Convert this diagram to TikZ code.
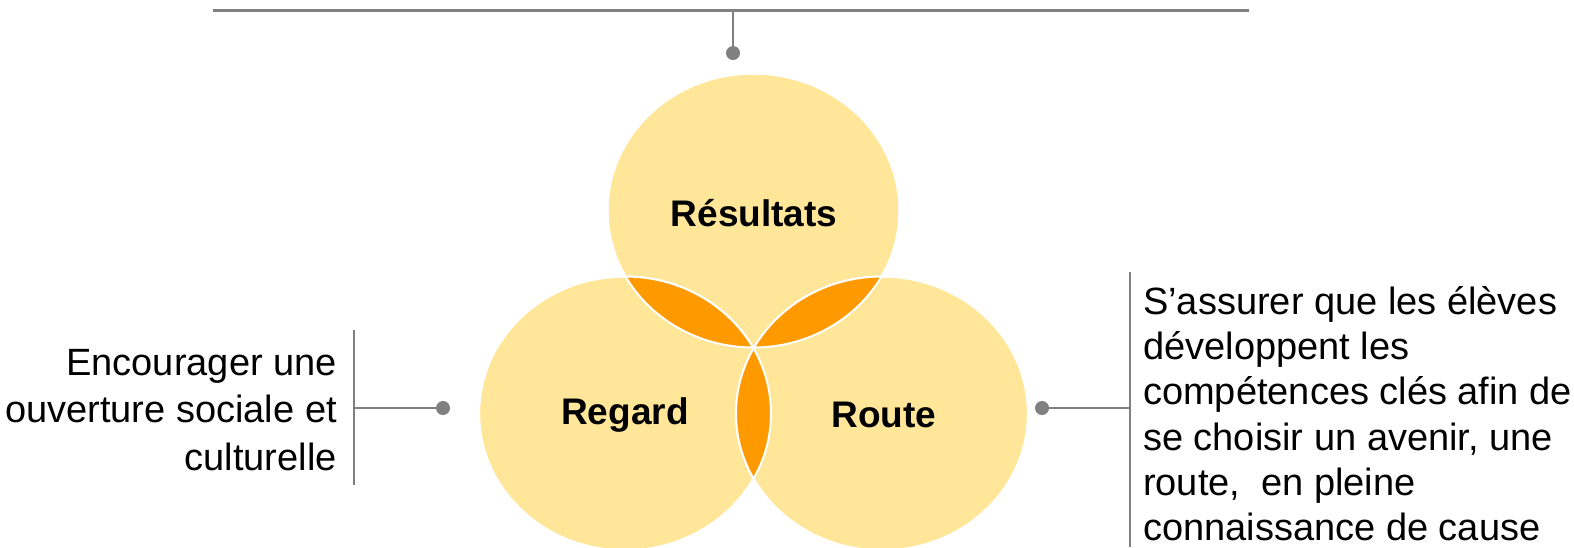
\documentclass[tikz,border=0pt]{standalone}
\usepackage{fontspec}
\setmainfont{Liberation Sans}
\usetikzlibrary{shapes.geometric}
\definecolor{lyel}{HTML}{FFE699}
\definecolor{lor}{HTML}{FF9900}
\definecolor{lgray}{HTML}{808080}
\tikzset{
  bubble/.style={ellipse, inner sep=0pt, minimum width=292pt, minimum height=274pt, fill=lyel, draw=white, line width=2pt},
  blabel/.style={font=\fontsize{37}{40}\selectfont\bfseries, text=black},
  dotnode/.style={circle, fill=lgray, inner sep=0pt, minimum size=14pt},
  conn/.style={draw=lgray, line width=2pt},
  descl/.style={font=\fontsize{38}{47.5}\selectfont, text=black, inner sep=0pt},
  descr/.style={font=\fontsize{38}{45.3}\selectfont, text=black, inner sep=0pt},
}
\begin{document}
\begin{tikzpicture}[x=1pt,y=-1pt]
\useasboundingbox (0,0) rectangle (1574,547);
% bubbles
\node[bubble] (res) at (753.5,210.5) {};
\node[bubble] (reg) at (625,413.5) {};
\node[bubble] (rou) at (882,413.5) {};
% lenses
\begin{scope}
  \clip (753.5,210.5) ellipse [x radius=146, y radius=137];
  \fill[lor] (625,413.5) ellipse [x radius=146, y radius=137];
  \fill[lor] (882,413.5) ellipse [x radius=146, y radius=137];
\end{scope}
\begin{scope}
  \clip (625,413.5) ellipse [x radius=146, y radius=137];
  \fill[lor] (882,413.5) ellipse [x radius=146, y radius=137];
\end{scope}
\draw[white, line width=2pt] (753.5,210.5) ellipse [x radius=146, y radius=137];
\draw[white, line width=2pt] (625,413.5) ellipse [x radius=146, y radius=137];
\draw[white, line width=2pt] (882,413.5) ellipse [x radius=146, y radius=137];
% labels
\node[blabel] (lres) at (754,213) {Résultats};
\node[blabel] (lreg) at (625,415) {Regard};
\node[blabel] (lrou) at (884,415) {Route};
% top connector
\coordinate (tl) at (213,10);
\coordinate (tr) at (1249,10);
\coordinate (tm) at (733,10);
\draw[draw=lgray, line width=3pt] (tl) -- (tr);
\node[dotnode] (dtop) at (733,53) {};
\draw[conn] (tm) -- (dtop);
% left connector
\coordinate (lt) at (354,330);
\coordinate (lb) at (354,485);
\coordinate (lm) at (354,408);
\draw[conn] (lt) -- (lb);
\node[dotnode] (dleft) at (443,408) {};
\draw[conn] (lm) -- (dleft);
\node[descl, align=right, anchor=north east] (tleft) at (337,349) {Encourager une\\ouverture sociale et\\culturelle};
% right connector
\coordinate (rt) at (1130,272);
\coordinate (rb) at (1130,547);
\coordinate (rm) at (1130,408);
\draw[conn] (rt) -- (rb);
\node[dotnode] (dright) at (1042,408) {};
\draw[conn] (dright) -- (rm);
\node[descr, align=left, anchor=north west] (tright) at (1143,286) {S’assurer que les élèves\\développent les\\compétences clés afin de\\se choisir un avenir, une\\route,~ en pleine\\connaissance de cause};
\end{tikzpicture}
\end{document}
